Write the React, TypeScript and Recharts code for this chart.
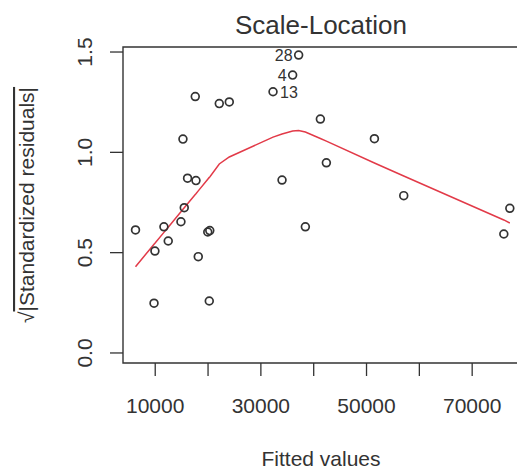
import React from "react";
import { ScatterChart, Scatter, XAxis, YAxis, ReferenceArea } from "recharts";

// fitted values and sqrt(|standardized residuals|), one entry per observation
const fitted = [
  6267, 9773, 9943, 11648, 12463, 14869, 15495, 15249, 16121, 17712, 17579,
  18148, 19948, 20327, 20231, 22126, 24021, 32300, 36014, 37151, 34006, 38420,
  41262, 42399, 51494, 57045, 75991, 77128,
];
const sqrtStdResid = [
  0.613, 0.248, 0.508, 0.629, 0.558, 0.654, 0.724, 1.066, 0.871, 0.859, 1.278,
  0.48, 0.603, 0.61, 0.259, 1.243, 1.251, 1.302, 1.385, 1.485, 0.862, 0.629,
  1.166, 0.948, 1.068, 0.784, 0.593, 0.721,
];
// R's plot.lm flags the three largest residuals
const obsLabels = ["", "", "", "", "", "", "", "", "", "", "", "", "", "", "", "", "", "13", "4", "28", "", "", "", "", "", "", "", ""];

// lowess smoother, evaluated at the sorted fitted values
const smoothX = [
  6267, 9773, 9943, 11648, 12463, 14869, 15249, 15495, 16121, 17579, 17712,
  18148, 19948, 20231, 20327, 22126, 24021, 32300, 34006, 36014, 37151, 38420,
  41262, 42399, 51494, 57045, 75991, 77128,
];
const smoothY = [
  0.43, 0.542, 0.547, 0.601, 0.627, 0.704, 0.716, 0.724, 0.744, 0.79, 0.794,
  0.808, 0.866, 0.875, 0.877, 0.942, 0.977, 1.076, 1.091, 1.106, 1.109, 1.101,
  1.069, 1.056, 0.947, 0.882, 0.663, 0.648,
];

const xTicks = [10000, 20000, 30000, 40000, 50000, 60000, 70000];
const xTickLabels = ["10000", "", "30000", "", "50000", "", "70000"];
const yTicks = [0, 0.5, 1, 1.5];
const yTickLabels = ["0.0", "0.5", "1.0", "1.5"];

const FONT = "'Liberation Sans', Arial, sans-serif";
const INK = "#333";

const points = fitted.map((x, i) => ({ x, y: sqrtStdResid[i], label: obsLabels[i] }));
const smooth = smoothX.map((x, i) => ({ x, y: smoothY[i] }));

function XTick({ x, y, payload }: any) {
  const label = xTickLabels[xTicks.indexOf(payload.value)];
  if (!label) return null;
  return (
    <text x={x} y={y + 35} textAnchor="middle" fontSize={21} fill={INK} fontFamily={FONT}>
      {label}
    </text>
  );
}

function YTick({ y, payload }: any) {
  const label = yTickLabels[yTicks.indexOf(payload.value)];
  const bx = 92;
  return (
    <text x={bx} y={y} transform={`rotate(-90, ${bx}, ${y})`} textAnchor="middle" fontSize={21} fill={INK} fontFamily={FONT}>
      {label}
    </text>
  );
}

function Point({ cx, cy, payload }: any) {
  const left = payload.label === "28" || payload.label === "4";
  return (
    <g>
      <circle cx={cx} cy={cy} r={3.9} fill="none" stroke="#333" strokeWidth={1.7} />
      {payload.label ? (
        <text
          x={left ? cx - 6 : cx + 7}
          y={cy + 6}
          textAnchor={left ? "end" : "start"}
          fontSize={16}
          fill={INK}
          fontFamily={FONT}
        >
          {payload.label}
        </text>
      ) : null}
    </g>
  );
}

const captionStyle: React.CSSProperties = {
  position: "absolute",
  left: 123,
  width: 396,
  textAlign: "center",
  fontFamily: FONT,
  color: INK,
  whiteSpace: "nowrap",
};

export default function App() {
  return (
    <div style={{ position: "absolute", left: 0, top: 0, width: 517, height: 471, overflow: "hidden", background: "#fff" }}>
      <ScatterChart width={530} height={471} margin={{ top: 47, right: 5, bottom: 0, left: 0 }}>
        <XAxis
          type="number"
          dataKey="x"
          domain={[3900, 80000]}
          ticks={xTicks}
          tick={<XTick />}
          tickSize={13}
          tickLine={{ stroke: INK, strokeWidth: 1.3 }}
          axisLine={false}
          height={108}
          allowDataOverflow
        />
        <YAxis
          type="number"
          dataKey="y"
          domain={[-0.05, 1.525]}
          ticks={yTicks}
          tick={<YTick />}
          tickSize={13}
          tickLine={{ stroke: INK, strokeWidth: 1.3 }}
          axisLine={false}
          width={123}
          allowDataOverflow
          label={{
            content: ({ viewBox }: any) => {
              const cy = viewBox.y + viewBox.height / 2;
              return (
                <text x={34} y={cy} transform={`rotate(-90, 34, ${cy})`} textAnchor="middle" fontSize={21} fill={INK} fontFamily={FONT}>
                  √<tspan textDecoration="overline">|Standardized residuals|</tspan>
                </text>
              );
            },
          }}
        />
        <ReferenceArea x1={3900} x2={80000} y1={-0.05} y2={1.525} fill="none" stroke={INK} strokeWidth={1.4} ifOverflow="visible" />
        <Scatter
          data={smooth}
          line={{ stroke: "#e23a48", strokeWidth: 1.5 }}
          lineType="joint"
          shape={() => <g />}
          isAnimationActive={false}
        />
        <Scatter data={points} shape={<Point />} isAnimationActive={false} />
      </ScatterChart>
      <div style={{ ...captionStyle, top: 12, fontSize: 26, lineHeight: "26px" }}>Scale-Location</div>
      <div style={{ ...captionStyle, top: 448, fontSize: 21, lineHeight: "21px" }}>Fitted values</div>
    </div>
  );
}
